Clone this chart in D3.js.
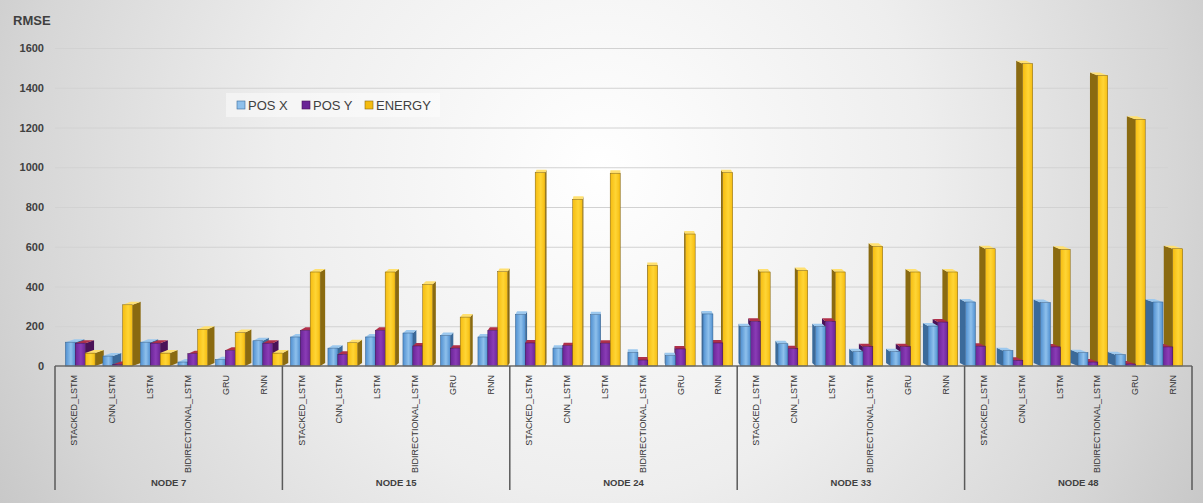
<!DOCTYPE html>
<html><head><meta charset="utf-8">
<script src="https://cdn.jsdelivr.net/npm/d3@7"></script>
<style>body{margin:0;background:#fff}svg{display:block}text{font-family:"Liberation Sans",Arial,sans-serif}</style>
</head><body><svg id="c" width="1203" height="503"></svg>
<script>
const nodes = ["NODE 7","NODE 15","NODE 24","NODE 33","NODE 48"];
const models = ["STACKED_LSTM","CNN_LSTM","LSTM","BIDIRECTIONAL_LSTM","GRU","RNN"];
const seriesNames = ["POS X","POS Y","ENERGY"];
const yTicks = [0,200,400,600,800,1000,1200,1400,1600];
// values ordered node by node, model by model
const posX   = [130,60,130,30,42,137, 156,100,156,176,164,156, 270,100,268,79,62,272, 208,122,208,82,82,211, 332,87,329,77,67,332];
const posY   = [125,18,125,72,89,125, 190,69,190,111,100,190, 126,112,125,40,96,126, 235,97,235,107,107,231, 110,39,106,30,20,106];
const energy = [75,318,75,195,178,75, 483,127,483,421,256,485, 983,849,980,516,674,983, 483,491,483,612,483,483, 600,1531,597,1472,1251,600];

const svg = d3.select("#c");
const W=1203,H=503;
const defs = svg.append("defs");
const bg = defs.append("radialGradient").attr("id","bg").attr("gradientUnits","userSpaceOnUse")
  .attr("cx",600).attr("cy",170).attr("r",720);
bg.append("stop").attr("offset","0").attr("stop-color","#ffffff");
bg.append("stop").attr("offset","0.45").attr("stop-color","#eeeeee");
bg.append("stop").attr("offset","0.8").attr("stop-color","#d6d6d6");
bg.append("stop").attr("offset","1").attr("stop-color","#c4c4c4");
svg.append("rect").attr("width",W).attr("height",H).attr("fill","url(#bg)");

const colors = {
  "POS X":{front:["#4f8fd0","#8ec0ec"],side:"#3b6a9a",top:"#9cc8ee"},
  "POS Y":{front:["#6a2496","#8a3cb6"],side:"#4a1258",top:"#b0304a"},
  "ENERGY":{front:["#f5bc10","#ffd535"],side:"#8a6a10",top:"#ffe070"}
};
seriesNames.forEach((s,i)=>{
  const g=defs.append("linearGradient").attr("id","g"+i).attr("x1","0").attr("x2","1").attr("y1","0").attr("y2","0");
  g.append("stop").attr("offset","0").attr("stop-color",colors[s].front[0]);
  g.append("stop").attr("offset","0.55").attr("stop-color",colors[s].front[1]);
  g.append("stop").attr("offset","1").attr("stop-color",colors[s].front[0]);
});

const x0=55,x1=1192,base=366;
const y = d3.scaleLinear().domain([0,1600]).range([base,48]);
const catKeys = [];
nodes.forEach(n=>models.forEach(m=>catKeys.push(n+"|"+m)));
const xCat = d3.scaleBand().domain(catKeys).range([x0,x1]);
const xNode = d3.scaleBand().domain(nodes).range([x0,x1]);
const bw = xCat.bandwidth();
const xSer = d3.scaleBand().domain(seriesNames).range([bw*0.12,bw*0.91]).padding(0);

// gridlines
svg.append("g").selectAll("line").data(yTicks.slice(1)).join("line")
  .attr("x1",x0).attr("x2",1168).attr("y1",d=>y(d)+0.5).attr("y2",d=>y(d)+0.5)
  .attr("stroke","#d2d2d2").attr("stroke-width",1);

// y axis
const yAxis = svg.append("g").attr("transform","translate(44,0)")
  .call(d3.axisLeft(y).tickValues(yTicks).tickSize(0).tickPadding(0).tickFormat(d3.format("d")));
yAxis.select(".domain").remove();
yAxis.selectAll("text").attr("font-size",11).attr("font-weight","bold").attr("fill","#404040");
svg.append("text").attr("x",13).attr("y",25).text("RMSE").attr("font-size",13).attr("font-weight","bold").attr("fill","#404040");

// bars
const cx=(x0+x1)/2;
const bars=[];
catKeys.forEach((k,ci)=>{
  const vals=[posX[ci],posY[ci],energy[ci]];
  seriesNames.forEach((s,si)=>{
    const nx = xCat(k)+xSer(s);
    const w = xSer.bandwidth();
    const mid = nx+w/2;
    const shift = (cx-mid)*0.0105;
    bars.push({s,si,v:vals[si],x:nx+shift,w,dx:(cx-mid)*0.016,dy:-3,dist:Math.abs(cx-mid)});
  });
});
bars.sort((a,b)=>b.dist-a.dist);
const bg2 = svg.append("g");
bars.forEach(b=>{
  const g=bg2.append("g");
  const bot=y(0), top=Math.min(bot-1, y(b.v)+2), xl=b.x, xr=b.x+b.w, dx=b.dx, dy=b.dy;
  const c=colors[b.s];
  const sx = dx>=0? xr : xl;
  g.append("polygon").attr("points",[[sx,top],[sx+dx,top+dy],[sx+dx,bot+dy],[sx,bot]].join(" ")).attr("fill",c.side);
  g.append("polygon").attr("points",[[xl,top],[xl+dx,top+dy],[xr+dx,top+dy],[xr,top]].join(" ")).attr("fill",c.top);
  g.append("rect").attr("x",xl).attr("y",top).attr("width",b.w).attr("height",bot-top)
    .attr("fill","url(#g"+b.si+")").attr("stroke",d3.color(c.side).darker(0.3)).attr("stroke-width",0.5);
});

// x axis
const xa = svg.append("g").attr("transform",`translate(0,${base})`)
  .call(d3.axisBottom(xCat).tickSize(0).tickPadding(0).tickFormat(d=>d.split("|")[1]));
xa.select(".domain").attr("stroke","#6a6a6a").attr("stroke-width",1.5).attr("d",`M${x0},0H${x1}`);
xa.selectAll("text").attr("font-size",9).attr("fill","#333333")
  .attr("text-anchor","end").attr("transform","rotate(-90)").attr("x",-9).attr("y",0).attr("dy","0.35em");
// node separators & labels
svg.append("g").selectAll("line").data(d3.range(nodes.length+1)).join("line")
  .attr("x1",i=>x0+i*xNode.bandwidth()).attr("x2",i=>x0+i*xNode.bandwidth())
  .attr("y1",base).attr("y2",490).attr("stroke","#5a5a5a").attr("stroke-width",1.5);
svg.append("g").selectAll("text").data(nodes).join("text")
  .attr("x",d=>xNode(d)+xNode.bandwidth()/2).attr("y",486).attr("text-anchor","middle")
  .attr("font-size",9.5).attr("font-weight","bold").attr("fill","#404040").text(d=>d);

// legend
const lg = svg.append("g");
lg.append("rect").attr("x",226).attr("y",93).attr("width",214).attr("height",24).attr("fill","#ffffff").attr("opacity",0.45);
const lx=[237,302,365];
seriesNames.forEach((s,i)=>{
  lg.append("rect").attr("x",lx[i]).attr("y",101).attr("width",8).attr("height",8)
    .attr("fill",colors[s].front[i===0?1:0]).attr("stroke",colors[s].side).attr("stroke-width",0.6);
  lg.append("text").attr("x",lx[i]+11).attr("y",110).attr("font-size",13).attr("fill","#404040").text(s);
});
</script></body></html>
